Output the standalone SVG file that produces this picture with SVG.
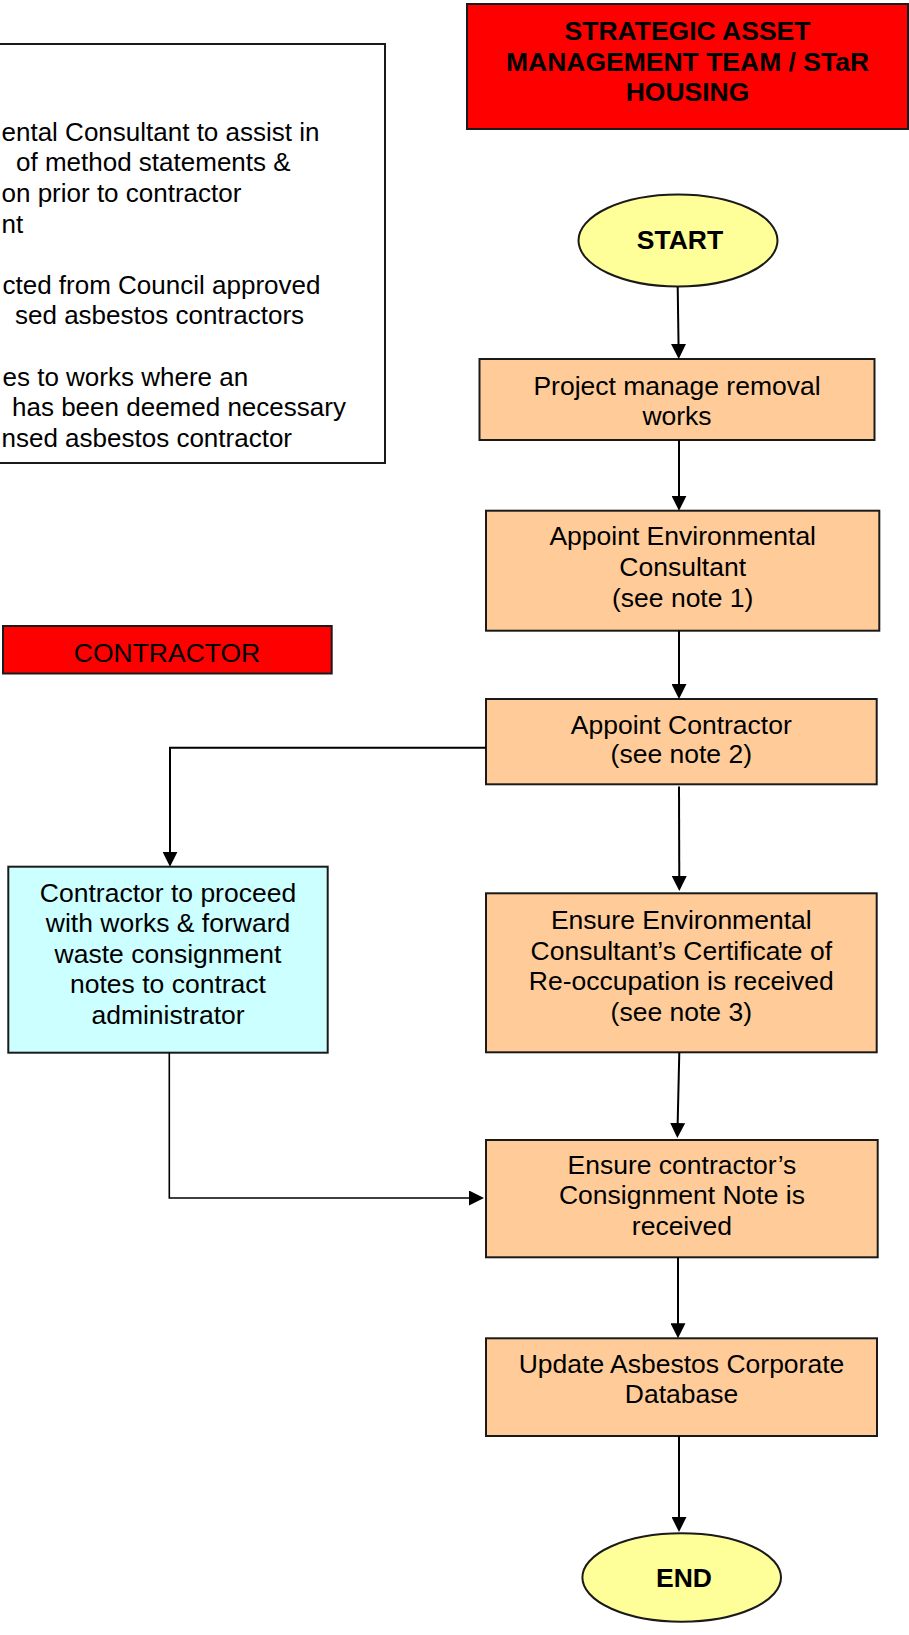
<svg xmlns="http://www.w3.org/2000/svg" width="909" height="1635" viewBox="0 0 909 1635">
  <defs>
    <marker id="arrow" markerUnits="userSpaceOnUse" markerWidth="15" markerHeight="15" refX="12" refY="7.5" orient="auto">
      <path d="M0,0 L15,7.5 L0,15 Z" fill="#000"/>
    </marker>
  </defs>
  <style>
    .box { stroke: #1a1a1a; stroke-width: 2; }
    .red { fill: #FF0000; }
    .peach { fill: #FFCC99; }
    .yellow { fill: #FFFF99; }
    .cyan { fill: #CCFFFF; }
    .white { fill: #FFFFFF; }
    .t { font-family: "Liberation Sans", Arial, Helvetica, sans-serif; font-size: 26.5px; fill: #000; }
    .n { font-size: 26px; }
    .c { text-anchor: middle; }
    .b { font-weight: bold; }
    .conn { stroke: #000; stroke-width: 2; fill: none; }
    .thin { stroke-width: 1.6; }
  </style>
  <rect width="909" height="1635" fill="#FFFFFF"/>

  <!-- notes panel (runs off the left edge) -->
  <g id="notes">
    <rect class="box white" x="-10" y="44" width="395" height="419"/>
    <text class="t n" x="1.5" y="140.7">ental Consultant to assist in</text>
    <text class="t n" x="16" y="171.3">of method statements &amp;</text>
    <text class="t n" x="1.5" y="201.9">on prior to contractor</text>
    <text class="t n" x="1.5" y="232.5">nt</text>
    <text class="t n" x="2.5" y="293.7">cted from Council approved</text>
    <text class="t n" x="15" y="324.3">sed asbestos contractors</text>
    <text class="t n" x="2.5" y="385.5">es to works where an</text>
    <text class="t n" x="12" y="416.1">has been deemed necessary</text>
    <text class="t n" x="1.5" y="446.7">nsed asbestos contractor</text>
  </g>

  <g id="header-team">
    <rect class="box red" x="467" y="4" width="441" height="125"/>
    <text class="t c b" x="687.5" y="40">STRATEGIC ASSET</text>
    <text class="t c b" x="687.5" y="70.6">MANAGEMENT TEAM / STaR</text>
    <text class="t c b" x="687.5" y="101">HOUSING</text>
  </g>

  <g id="header-contractor">
    <rect class="box red" x="3" y="626" width="328.7" height="47.5"/>
    <text class="t c" x="167" y="662.3">CONTRACTOR</text>
  </g>

  <g id="start">
    <ellipse class="box yellow" cx="678" cy="240.5" rx="99.5" ry="46"/>
    <text class="t c b" x="680" y="249">START</text>
  </g>

  <g id="project-manage">
    <rect class="box peach" x="479.5" y="359" width="395" height="81"/>
    <text class="t c" x="677" y="395">Project manage removal</text>
    <text class="t c" x="677" y="425">works</text>
  </g>

  <g id="appoint-consultant">
    <rect class="box peach" x="486" y="510.7" width="393.3" height="120"/>
    <text class="t c" x="682.7" y="545">Appoint Environmental</text>
    <text class="t c" x="682.7" y="576">Consultant</text>
    <text class="t c" x="682.7" y="606.7">(see note 1)</text>
  </g>

  <g id="appoint-contractor">
    <rect class="box peach" x="486" y="699" width="390.7" height="85.3"/>
    <text class="t c" x="681.3" y="734">Appoint Contractor</text>
    <text class="t c" x="681.3" y="763.3">(see note 2)</text>
  </g>

  <g id="contractor-works">
    <rect class="box cyan" x="8.3" y="866.7" width="319.4" height="186"/>
    <text class="t c" x="168" y="901.7">Contractor to proceed</text>
    <text class="t c" x="168" y="932.3">with works &amp; forward</text>
    <text class="t c" x="168" y="962.7">waste consignment</text>
    <text class="t c" x="168" y="993.3">notes to contract</text>
    <text class="t c" x="168" y="1024">administrator</text>
  </g>

  <g id="certificate">
    <rect class="box peach" x="486" y="893.3" width="390.7" height="159"/>
    <text class="t c" x="681.3" y="929.3">Ensure Environmental</text>
    <text class="t c" x="681.3" y="959.5">Consultant’s Certificate of</text>
    <text class="t c" x="681.3" y="990">Re-occupation is received</text>
    <text class="t c" x="681.3" y="1021">(see note 3)</text>
  </g>

  <g id="consignment-note">
    <rect class="box peach" x="486" y="1140" width="391.7" height="117.3"/>
    <text class="t c" x="681.9" y="1174">Ensure contractor’s</text>
    <text class="t c" x="681.9" y="1204.3">Consignment Note is</text>
    <text class="t c" x="681.9" y="1235">received</text>
  </g>

  <g id="update-database">
    <rect class="box peach" x="486" y="1338.3" width="391" height="97.7"/>
    <text class="t c" x="681.5" y="1373.3">Update Asbestos Corporate</text>
    <text class="t c" x="681.5" y="1402.7">Database</text>
  </g>

  <g id="end">
    <ellipse class="box yellow" cx="681.7" cy="1577.5" rx="99.3" ry="44.2"/>
    <text class="t c b" x="684" y="1586.7">END</text>
  </g>

  <g id="connectors">
    <path class="conn" d="M677.7,287 L678.7,356" marker-end="url(#arrow)"/>
    <path class="conn" d="M679,440 L679,507.7" marker-end="url(#arrow)"/>
    <path class="conn" d="M679,630.7 L679,696" marker-end="url(#arrow)"/>
    <path class="conn" d="M679,786.5 L679.3,888" marker-end="url(#arrow)"/>
    <path class="conn" d="M679.3,1052.3 L677.4,1135" marker-end="url(#arrow)"/>
    <path class="conn" d="M678,1257.3 L678,1335.3" marker-end="url(#arrow)"/>
    <path class="conn" d="M679,1436 L679,1529" marker-end="url(#arrow)"/>
    <path class="conn" d="M486,747.7 L170,747.7 L170,863.7" marker-end="url(#arrow)"/>
    <path class="conn thin" d="M169.3,1052.7 L169.3,1198 L481,1198" marker-end="url(#arrow)"/>
  </g>
</svg>
